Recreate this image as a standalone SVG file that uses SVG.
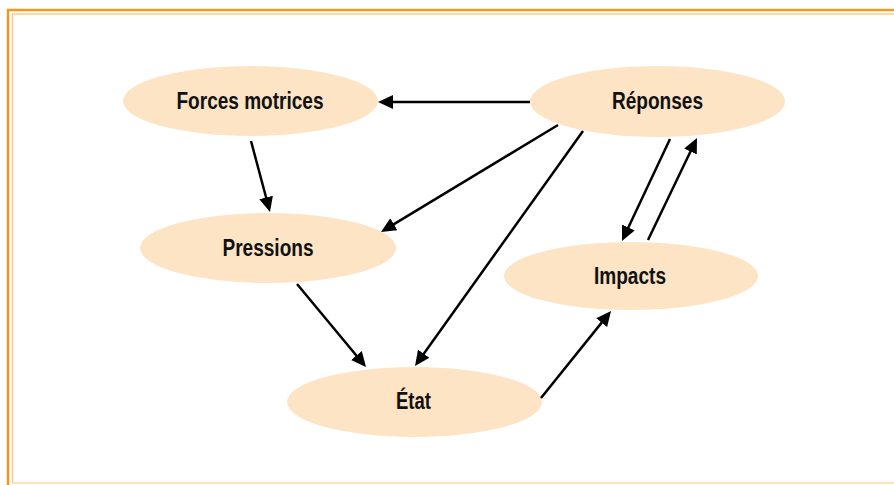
<svg xmlns="http://www.w3.org/2000/svg" width="894" height="485" viewBox="0 0 894 485">
<style>
.node ellipse{fill:#fde4c5;stroke:none}
.node text{font-family:"Liberation Sans Narrow","Liberation Sans",Arial,sans-serif;font-weight:bold;font-size:23px;fill:#111;text-anchor:middle}
.conn line{stroke:#000;stroke-width:2.5;marker-end:url(#ah)}
</style>
<defs>
<marker id="ah" markerUnits="userSpaceOnUse" markerWidth="15" markerHeight="14" refX="10" refY="7" orient="auto">
<path d="M0,0 L15,7 L0,14 z" fill="#000"/>
</marker>
</defs>
<rect width="894" height="485" fill="#fff"/>
<g id="frame" fill="none">
<path d="M8,485 V10 H894" stroke="#f6961e" stroke-width="2.5"/>
<path d="M12.5,483 V14 H894" stroke="#fcca84" stroke-width="1.5"/>
<path d="M12.5,483 H894" stroke="#fcd9a8" stroke-width="1.5"/>
</g>
<g id="n-forces" class="node"><ellipse cx="250.5" cy="101" rx="127.5" ry="35"/><text x="250" y="109" textLength="147" lengthAdjust="spacingAndGlyphs">Forces motrices</text></g>
<g id="n-reponses" class="node"><ellipse cx="657.5" cy="101.5" rx="127.5" ry="35.5"/><text x="657.5" y="109" textLength="91" lengthAdjust="spacingAndGlyphs">Réponses</text></g>
<g id="n-pressions" class="node"><ellipse cx="268" cy="248" rx="128" ry="35"/><text x="268" y="256" textLength="91" lengthAdjust="spacingAndGlyphs">Pressions</text></g>
<g id="n-impacts" class="node"><ellipse cx="631" cy="276" rx="127" ry="34"/><text x="630" y="284" textLength="72" lengthAdjust="spacingAndGlyphs">Impacts</text></g>
<g id="n-etat" class="node"><ellipse cx="414.5" cy="402" rx="127.5" ry="35"/><text x="413.5" y="409" textLength="35" lengthAdjust="spacingAndGlyphs">État</text></g>
<g id="connectors" class="conn">
<line x1="530" y1="102" x2="383" y2="102"/>
<line x1="251" y1="141" x2="268.7" y2="207.2"/>
<line x1="558" y1="125" x2="385.3" y2="229.4"/>
<line x1="583" y1="131" x2="417.9" y2="361.9"/>
<line x1="297" y1="284" x2="362.8" y2="363.2"/>
<line x1="541" y1="398" x2="607.9" y2="314.9"/>
<line x1="670" y1="139" x2="624.1" y2="236.5"/>
<line x1="648" y1="240" x2="694.8" y2="142.5"/>
</g>
</svg>
